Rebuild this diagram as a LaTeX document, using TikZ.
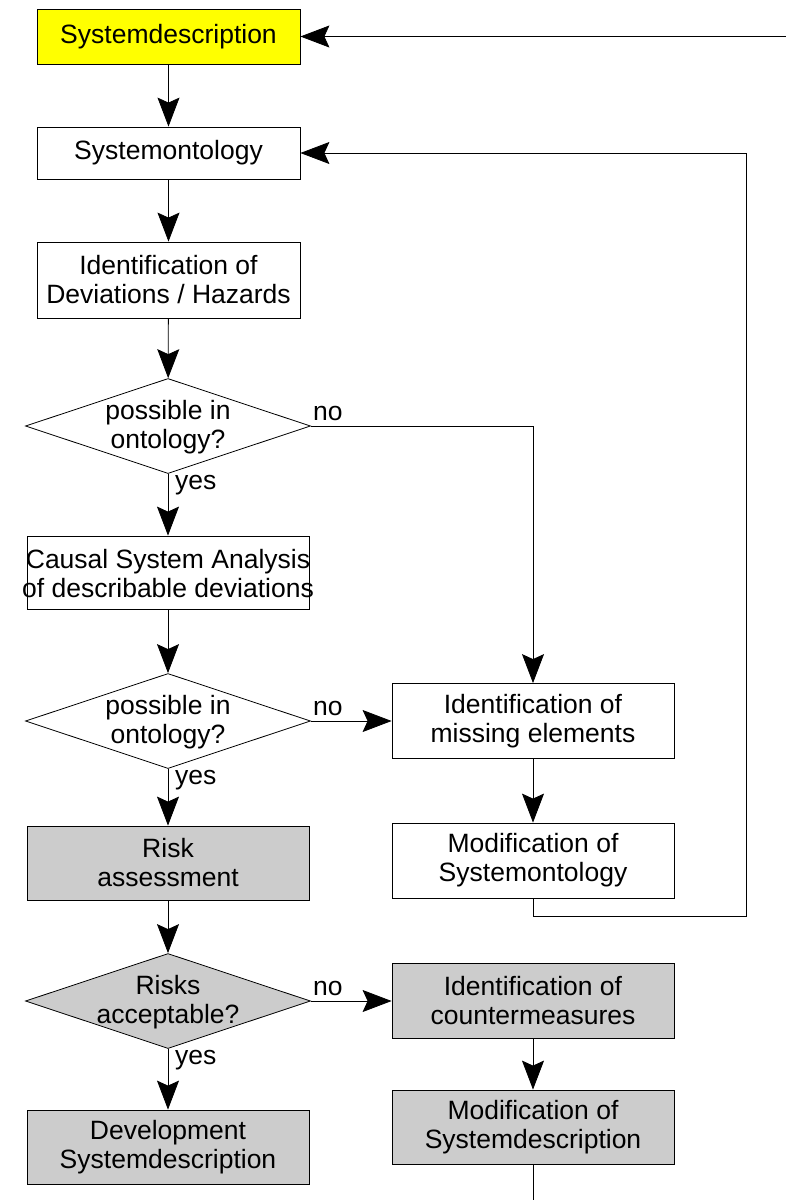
\documentclass[tikz,border=0pt]{standalone}
\usepackage{fontspec}
\setmainfont{Liberation Sans}
\usetikzlibrary{shapes.geometric,arrows.meta,calc}

\definecolor{hiyellow}{HTML}{FFFF00}
\definecolor{boxgray}{HTML}{CCCCCC}

\tikzset{
  flowtext/.style={font=\fontsize{26.5}{29}\selectfont, align=center, inner sep=0pt},
  stepbox/.style={draw=black, line width=0.8pt, fill=white, rectangle, inner sep=0pt,
                  flowtext},
  wideboxA/.style={stepbox, minimum width=263pt},
  wideboxB/.style={stepbox, minimum width=282pt},
  decision/.style={draw=black, line width=0.8pt, fill=white, shape=diamond, inner sep=0pt,
                   minimum width=285pt, minimum height=95pt},
  lbl/.style={font=\fontsize{26.5}{29}\selectfont, inner sep=0pt},
  flow/.style={line width=0.8pt, draw=black,
               -{Stealth[length=29pt, width=22pt, inset=5pt]}},
  plainline/.style={line width=0.8pt, draw=black},
}

\begin{document}
\begin{tikzpicture}[x=1pt, y=-1pt]
  \useasboundingbox (0,0) rectangle (786,1200);

  % left column
  \node[wideboxA, fill=hiyellow, minimum height=55pt] (sd) at (168.5,36.5) {Systemdescription};
  \node[wideboxA, minimum height=52pt] (so) at (168.5,153) {Systemontology};
  \node[wideboxA, minimum height=76pt] (idh) at (168.5,280) {Identification of\\Deviations / Hazards};

  \node[decision] (d1) at (168,426) {};
  \node[flowtext] (d1t) at ($(d1)+(0,1)$) {possible in\\ontology?};

  \node[wideboxB, minimum height=73pt] (csa) at (168,572.5) {};
  \node[flowtext] (csat) at ($(csa)+(0,1)$) {Causal System Analysis\\of describable deviations};

  \node[decision] (d2) at (168,721) {};
  \node[flowtext] (d2t) at ($(d2)+(0,1)$) {possible in\\ontology?};

  \node[wideboxB, fill=boxgray, minimum height=74pt] (risk) at (168,863) {Risk\\assessment};

  \node[decision, fill=boxgray] (d3) at (168,1001) {};
  \node[flowtext] (d3t) at ($(d3)+(0,1)$) {Risks\\acceptable?};

  \node[wideboxB, fill=boxgray, minimum height=74pt] (dev) at (168,1147) {Development\\Systemdescription};

  % right column
  \node[wideboxB, minimum height=75pt] (miss) at (533,721) {Identification of\\missing elements};
  \node[wideboxB, minimum height=75pt] (modso) at (533,860.5) {Modification of\\Systemontology};
  \node[wideboxB, fill=boxgray, minimum height=75pt] (cm) at (533,1001) {Identification of\\countermeasures};
  \node[wideboxB, fill=boxgray, minimum height=74pt] (modsd) at (533,1127) {Modification of\\Systemdescription};

  % loose ends of the outer loop
  \coordinate (inTop) at (786,36.5);
  \coordinate (outBot) at (533,1200);
  \coordinate (loopA) at (533,916);
  \coordinate (loopB) at (746,916);
  \coordinate (loopC) at (746,153);
  \coordinate (noA) at (533,426);

  % main chain
  \draw[flow] (sd) -- (so);
  \draw[flow] (so) -- (idh);
  \draw[flow] (idh) -- (d1);
  \draw[flow] (d1) -- (csa);
  \draw[flow] (csa) -- (d2);
  \draw[flow] (d2) -- (risk);
  \draw[flow] (risk) -- (d3);
  \draw[flow] (d3) -- (dev);

  % branches
  \draw[flow] (d1.east) -- (noA) -- (miss.north);
  \draw[flow] (d2.east) -- (miss.west);
  \draw[flow] (d3.east) -- (cm.west);
  \draw[flow] (miss) -- (modso);
  \draw[flow] (cm) -- (modsd);

  % loops back
  \draw[flow] (modso.south) -- (loopA) -- (loopB) -- (loopC) -- (so.east);
  \draw[flow] (inTop) -- (sd.east);
  \draw[plainline] (modsd.south) -- (outBot);

  % branch labels
  \node[lbl, anchor=base west] (no1) at ($(d1.east)+(2,-6)$) {no};
  \node[lbl, anchor=base west] (no2) at ($(d2.east)+(2,-6)$) {no};
  \node[lbl, anchor=base west] (no3) at ($(d3.east)+(2,-6)$) {no};
  \node[lbl, anchor=base west] (yes1) at ($(d1.south)+(7,16)$) {yes};
  \node[lbl, anchor=base west] (yes2) at ($(d2.south)+(7,16)$) {yes};
  \node[lbl, anchor=base west] (yes3) at ($(d3.south)+(7,16)$) {yes};
\end{tikzpicture}
\end{document}
